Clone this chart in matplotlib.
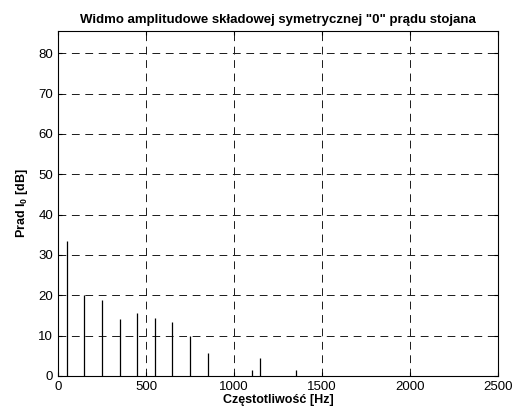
import matplotlib
matplotlib.use('Agg')
import matplotlib.pyplot as plt

plt.rcParams['font.family'] = ['Liberation Sans', 'DejaVu Sans']
plt.rcParams['mathtext.fontset'] = 'custom'
plt.rcParams['mathtext.rm'] = 'Liberation Sans'
plt.rcParams['mathtext.bf'] = 'Liberation Sans:bold'

# harmonic frequencies [Hz] and amplitudes [dB]
freqs = [50, 150, 250, 350, 450, 550, 650, 750, 850, 1100, 1150, 1350]
amps = [33.4, 20.1, 18.9, 14.0, 15.7, 14.4, 13.3, 10.0, 5.8, 1.5, 4.5, 1.6]

x_ticks = [0, 500, 1000, 1500, 2000, 2500]
y_ticks = [0, 10, 20, 30, 40, 50, 60, 70, 80]

fig = plt.figure(figsize=(5.15, 4.12), dpi=100)
ax = fig.add_axes([0.1126, 0.0874, 0.8544, 0.8374])

ax.vlines(freqs, 0, amps, colors='black', linewidth=0.9)

ax.set_xlim(0, 2500)
ax.set_ylim(0, 85.5)
ax.set_xticks(x_ticks)
ax.set_yticks(y_ticks)
ax.tick_params(direction='in', top=True, right=True, labelsize=9.5, length=3, width=0.8)
ax.grid(True, color='#1a1a1a', linestyle=(0, (8, 5.8)), linewidth=0.7)
for s in ax.spines.values():
    s.set_linewidth(0.8)

ax.set_title('Widmo amplitudowe składowej symetrycznej "0" prądu stojana',
             fontsize=9.5, fontweight='bold', pad=6)
ax.set_xlabel('Częstotliwość [Hz]', fontsize=9, fontweight='bold', labelpad=1)
ax.set_ylabel(r'Prad I$_{\mathbf{0}}$ [dB]', fontsize=9, fontweight='bold', labelpad=6)

fig.savefig('out.png', dpi=100)
